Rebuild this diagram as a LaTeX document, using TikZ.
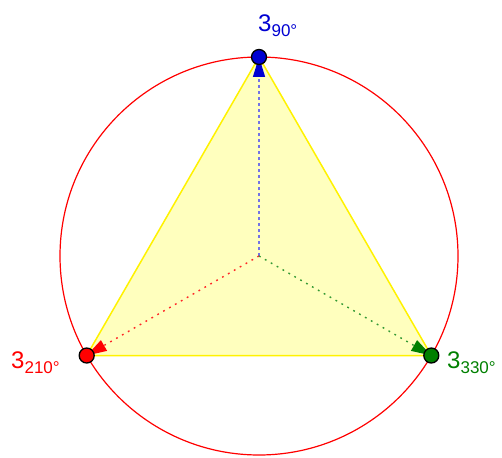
\documentclass[tikz,border=0pt]{standalone}
\usepackage{fontspec}
\setmainfont{Liberation Sans}
\usetikzlibrary{arrows.meta}
\definecolor{gblue}{RGB}{0,0,210}
\definecolor{gred}{RGB}{255,0,0}
\definecolor{ggreen}{RGB}{0,128,0}
\definecolor{gtri}{RGB}{255,255,190}
\tikzset{
  vdot/.style={circle,draw=black,line width=1.3pt,minimum size=15pt,inner sep=0pt},
  vec/.style={line width=1.4pt,-{Triangle[length=20pt,width=12pt,color=#1]}},
  dotline/.style={dash pattern=on 1.8pt off 5pt},
  lab/.style={font=\fontsize{24}{24}\selectfont,inner sep=0pt}
}
\newcommand{\subtxt}[1]{\raisebox{-5pt}{\fontsize{17}{17}\selectfont #1}}
\begin{document}
\begin{tikzpicture}[x=1pt,y=-1pt]
\useasboundingbox (0,0) rectangle (502,457);
\coordinate (O) at (259,256);
\coordinate (A) at (259,57);
\coordinate (B) at (86.7,355.5);
\coordinate (C) at (431.3,355.5);
\draw[gred,line width=1.2pt] (O) circle (199);
\filldraw[fill=gtri,draw=yellow,line width=1.5pt] (A) -- (B) -- (C) -- cycle;
\draw[vec=gblue,draw=gblue!55,dash pattern=on 3pt off 3pt] (O) -- (A);
\draw[vec=gred,draw=gred!85,dotline] (O) -- (B);
\draw[vec=ggreen,draw=ggreen!80,dotline] (O) -- (C);
\node[vdot,fill=gblue] (a) at (A) {};
\node[vdot,fill=gred] (b) at (B) {};
\node[vdot,fill=ggreen] (c) at (C) {};
\node[lab,text=gblue,anchor=base west] (la) at (258,32) {3\subtxt{90°}};
\node[lab,text=gred,anchor=base west] (lb) at (11,368) {3\subtxt{210°}};
\node[lab,text=ggreen,anchor=base west] (lc) at (447,368) {3\subtxt{330°}};
\end{tikzpicture}
\end{document}
